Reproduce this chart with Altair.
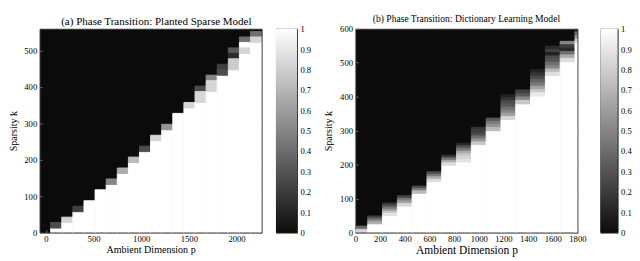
import altair as alt
import pandas as pd

# ---------------- Panel (a): Planted Sparse Model ----------------
a_col_first_edge = -66.5      # p of left edge of first column
a_col_width = 116.5           # p width of each column
a_row_first_center = 5        # k of first row center
a_row_step = 15               # k height of each row
a_n_rows = 38
# first row (from bottom) that is fully black, per column
a_black_row = [0, 2, 3, 5, 6, 8, 10, 12, 14, 16, 18, 20, 22, 24, 27, 29, 31, 34, 36, 37]
# transition cells directly below the black region, going downward
a_gray = [[], [0.3], [0.85], [0.25], [], [], [0.55], [0.7], [0.75], [0.3],
          [0.85], [0.6], [], [0.85], [0.3, 0.85, 0.85], [0.55, 0.85, 0.85],
          [0.25, 0.3], [0.35, 0.15, 0.82, 0.82], [0.45, 1.0, 0.85], [0.45, 0.85]]
a_x_ticks = [0, 500, 1000, 1500, 2000]
a_y_ticks = [0, 100, 200, 300, 400, 500]

# ---------------- Panel (b): Dictionary Learning Model ----------------
b_col_first_center = 40
b_col_width = 120
b_k_black = [19, 49, 87, 109, 137, 179, 228, 263, 310, 337, 406, 420, 480, 549, 563, 591]
b_k_white = [0, 26, 50, 78, 116, 150, 198, 208, 259, 300, 333, 379, 402, 462, 503, 558]
b_band = [[0.45, 0.85],
          [0.25, 0.4, 0.55, 0.7],
          [0.2, 0.35, 0.5, 0.65, 0.8, 0.9],
          [0.25, 0.5, 0.65, 0.85],
          [0.3, 0.5, 0.75],
          [0.3, 0.5, 0.7, 0.88],
          [0.2, 0.45, 0.7, 0.88],
          [0.15, 0.35, 0.5, 0.7, 0.8, 0.85, 0.9],
          [0.2, 0.25, 0.3, 0.45, 0.6, 0.8],
          [0.35, 0.5, 0.6, 0.75],
          [0.1, 0.2, 0.3, 0.35, 0.45, 0.55, 0.65, 0.85],
          [0.25, 0.35, 0.55, 0.8],
          [0.1, 0.2, 0.3, 0.4, 0.5, 0.65, 0.8, 0.92],
          [0.15, 0.25, 0.1, 0.3, 0.35, 0.45, 0.55, 0.75, 0.88],
          [0.55, 0.25, 0.15, 0.45, 0.7, 0.88],
          [0.45, 0.6, 0.85]]
b_x_ticks = [0, 200, 400, 600, 800, 1000, 1200, 1400, 1600, 1800]
b_y_ticks = [0, 100, 200, 300, 400, 500, 600]

# colorbar
cb_ticks = [i / 10 for i in range(11)]

FONT = "Liberation Serif"
BLACK = "#0b0b0b"
TICK = "#666666"

# ---------------- build tables (black = plot background) ----------------
rows = []
for c in range(len(a_black_row)):
    x0 = a_col_first_edge + c * a_col_width
    n_white = a_black_row[c] - len(a_gray[c])   # rows fully white at the bottom
    if n_white > 0:
        top = a_row_first_center + (n_white - 1) * a_row_step + a_row_step / 2
        rows.append(dict(x=x0, x2=x0 + a_col_width, y=0, y2=top, v=1.0))
    for idx, val in enumerate(a_gray[c]):
        r = a_black_row[c] - 1 - idx
        kc = a_row_first_center + r * a_row_step
        rows.append(dict(x=x0, x2=x0 + a_col_width,
                         y=max(0, kc - a_row_step / 2), y2=kc + a_row_step / 2, v=val))
dfa = pd.DataFrame(rows)

rows = []
for c in range(len(b_k_black)):
    cx = b_col_first_center + c * b_col_width
    x0, x1 = max(0, cx - b_col_width / 2), min(1800, cx + b_col_width / 2)
    kb, kw = b_k_black[c], b_k_white[c]
    if kw > 0:
        rows.append(dict(x=x0, x2=x1, y=0, y2=kw, v=1.0))
    band = b_band[c]
    h = (kb - kw) / len(band)
    for i, val in enumerate(band):
        rows.append(dict(x=x0, x2=x1, y=kb - (i + 1) * h, y2=kb - i * h, v=val))
dfb = pd.DataFrame(rows)

dfc = pd.DataFrame(dict(x=[0.0], x2=[1.0], y=[0.0], y2=[1.0]))

gray_scale = alt.Scale(domain=[0, 1], range=[BLACK, "#ffffff"])
tick_axis = dict(ticks=True, tickSize=3, offset=-3, tickColor=TICK, tickWidth=1,
                 grid=False, domain=False)


def heat(df, xdom, ydom, xticks, yticks, title, tsize, tdx, xtsize, w, h):
    xs = alt.Scale(domain=xdom, nice=False, zero=False)
    ys = alt.Scale(domain=ydom, nice=False, zero=False)
    xaxis = alt.Axis(values=xticks, format="d", title="Ambient Dimension p",
                     labelPadding=2, labelOverlap=False, labelFlush=False,
                     titleFontSize=xtsize, titlePadding=2, **tick_axis)
    main = alt.Chart(df).mark_rect(strokeWidth=1, clip=True).encode(
        x=alt.X("x:Q", scale=xs, axis=xaxis),
        x2="x2:Q",
        y=alt.Y("y:Q", scale=ys,
                axis=alt.Axis(values=yticks, format="d", title="Sparsity k",
                              labelPadding=3, labelOverlap=False, labelFlush=False,
                              titleFontSize=10.5, titlePadding=6, **tick_axis)),
        y2="y2:Q",
        color=alt.Color("v:Q", scale=gray_scale, legend=None),
        stroke=alt.Stroke("v:Q", scale=gray_scale, legend=None),
    )
    ghost = alt.Chart(df).mark_rect(opacity=0).encode(
        x=alt.X("x:Q", scale=xs, axis=xaxis),
        x2="x2:Q",
        y=alt.Y("y:Q", scale=ys,
                axis=alt.Axis(orient="right", values=yticks, labels=False, title=None,
                              **tick_axis)),
        y2="y2:Q",
    )
    return alt.layer(main, ghost).resolve_axis(y="independent").properties(
        width=w, height=h,
        title=alt.TitleParams(title, font=FONT, fontSize=tsize,
                              fontWeight="normal", offset=1, dx=tdx, color="black"))


def colorbar(w, h):
    xs = alt.Scale(domain=[0, 1], nice=False)
    ys = alt.Scale(domain=[0, 1], nice=False)
    bar = alt.Chart(dfc).mark_rect(
        color=alt.Gradient(gradient="linear",
                           stops=[alt.GradientStop(color="#ffffff", offset=0),
                                  alt.GradientStop(color=BLACK, offset=1)],
                           x1=0, x2=0, y1=0, y2=1)
    ).encode(
        x=alt.X("x:Q", scale=xs, axis=None),
        x2="x2:Q",
        y=alt.Y("y:Q", scale=ys,
                axis=alt.Axis(orient="right", values=cb_ticks, format=".1~f", title=None,
                              labelPadding=3, labelOverlap=False, labelFlush=False,
                              **tick_axis)),
        y2="y2:Q",
    )
    ghost = alt.Chart(dfc).mark_rect(opacity=0).encode(
        x=alt.X("x:Q", scale=xs, axis=None),
        x2="x2:Q",
        y=alt.Y("y:Q", scale=ys,
                axis=alt.Axis(orient="left", values=cb_ticks, labels=False, title=None,
                              **tick_axis)),
        y2="y2:Q",
    )
    return alt.layer(bar, ghost).resolve_axis(y="independent").properties(width=w, height=h)


H = 213
pa = heat(dfa, [-66.5, 2263.5], [0, 560], a_x_ticks, a_y_ticks,
          "(a) Phase Transition: Planted Sparse Model", 11.5, 6, 10.5, 232, H)
pb = heat(dfb, [0, 1800], [0, 600], b_x_ticks, b_y_ticks,
          "(b) Phase Transition: Dictionary Learning Model", 10, 0, 12, 232, H)

chart = alt.hconcat(pa, colorbar(22, H), pb, colorbar(18, H), spacing=13).resolve_scale(
    x="independent", y="independent"
).properties(
    padding={"left": 0, "top": 0, "right": 0, "bottom": 0}
).configure_view(
    stroke="#333333", strokeWidth=1, fill=BLACK
).configure_axis(
    labelFont=FONT, titleFont=FONT, labelFontSize=9, labelColor="black",
    titleColor="black", titleFontWeight="normal"
)

chart.save("out.html", embed_options={"renderer": "svg", "actions": False})
